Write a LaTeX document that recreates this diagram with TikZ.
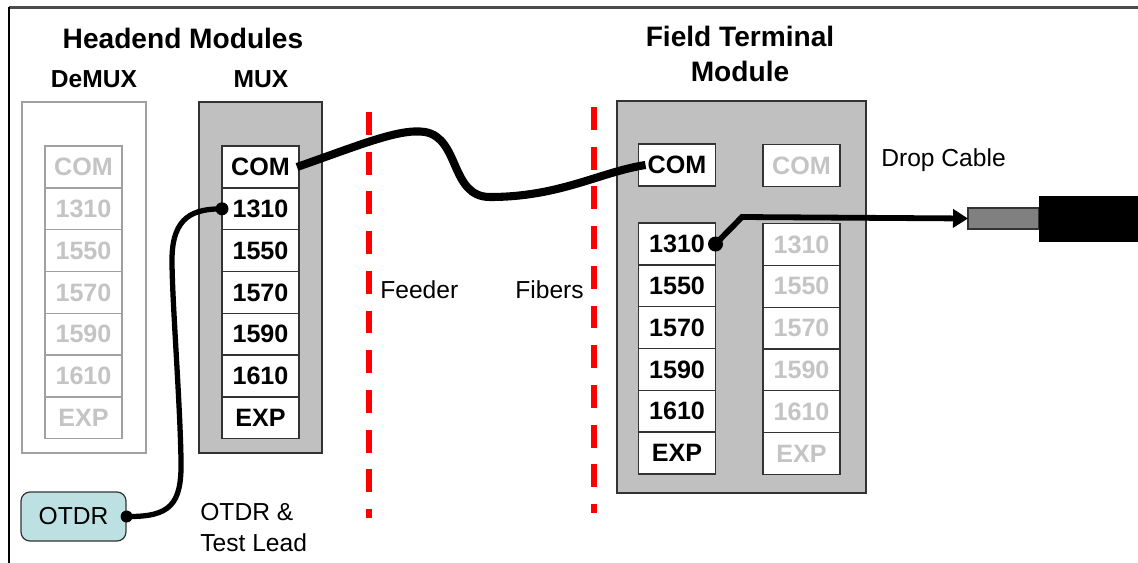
\documentclass[tikz,border=0pt]{standalone}
\usepackage{fontspec}
\setmainfont{Liberation Sans}
\usetikzlibrary{arrows.meta}
\definecolor{boxgray}{HTML}{C0C0C0}
\definecolor{fadetext}{HTML}{C4C4C4}
\definecolor{fadeline}{HTML}{A0A0A0}
\definecolor{edgecol}{HTML}{333333}
\definecolor{otdrfill}{HTML}{BDE0E3}
\definecolor{dropgrayfill}{HTML}{808080}
\begin{document}
\begin{tikzpicture}[x=0.02cm,y=-0.02cm,
  cell/.style={draw=edgecol, line width=0.7pt, fill=white, minimum width=1.54cm, minimum height=0.836cm,
    inner sep=0pt, outer sep=0pt, font=\fontsize{14.3}{16}\selectfont\bfseries},
  fadecell/.style={cell, draw=fadeline, text=fadetext},
  fadecelldark/.style={cell, text=fadetext},
  module/.style={draw=edgecol, line width=0.7pt, fill=boxgray, inner sep=0pt, outer sep=0pt},
  title/.style={font=\fontsize{16}{20.4}\selectfont\bfseries, inner sep=0pt, align=center},
  sublabel/.style={font=\fontsize{14}{16}\selectfont\bfseries, inner sep=0pt, anchor=base},
  plain/.style={font=\fontsize{14}{17.6}\selectfont, inner sep=0pt, align=left},
  reddash/.style={draw=red, line width=3.7pt, dash pattern=on 13pt off 9.6pt},
  feeder/.style={line width=4.6pt, black},
  lead/.style={line width=3pt, black},
  dot/.style={fill=black}
]
\useasboundingbox (0,0) rectangle (1138,562);

% frame
\draw[draw=black!70, line width=1.4pt] (9,7.5) -- (1140,7.5);
\draw[draw=black, line width=0.9pt] (9,7) -- (9,565);

% titles
\node[title, anchor=base] (ttlhead) at (183,48) {Headend Modules};
\node[sublabel] (lbldemux) at (94,87) {DeMUX};
\node[sublabel] (lblmux) at (261,87) {MUX};
\node[title] (ttlfield) at (740,54) {Field Terminal\\Module};
\node[sublabel] (lblfdemux) at (680,135) {DEMUX};
\node[sublabel] (lblfmux) at (803,136) {MUX};

% headend modules
\node[draw=fadeline, line width=0.7pt, fill=white, minimum width=2.48cm, minimum height=7.02cm, inner sep=0pt] (hdbox) at (84,277.5) {};
\node[module, minimum width=2.46cm, minimum height=7.02cm] (hmbox) at (260.5,277.5) {};
\foreach \lab [count=\i from 0] in {COM,1310,1550,1570,1590,1610,EXP} {
  \node[fadecell] (hd-\lab) at (83.5,{167+41.8*\i}) {\lab};
  \node[cell] (hm-\lab) at (260.5,{167+41.8*\i}) {\lab};
}

% field terminal module
\node[module, minimum width=4.98cm, minimum height=7.84cm] (ftbox) at (741.5,297) {};
\node[cell] (fd-COM) at (677,165) {COM};
\node[fadecelldark] (fm-COM) at (801.5,165.5) {COM};
\foreach \lab [count=\i from 0] in {1310,1550,1570,1590,1610,EXP} {
  \node[cell] (fd-\lab) at (677,{244+41.8*\i}) {\lab};
  \node[fadecelldark] (fm-\lab) at (801.5,{244.5+41.8*\i}) {\lab};
}

% red dashed boundaries
\draw[reddash] (369,112) -- (369,518);
\draw[reddash] (594,107) -- (594,513);

% labels
\node[plain, anchor=base west] (lblfeeder) at (380,298) {Feeder};
\node[plain, anchor=base west] (lblfibers) at (515,298) {Fibers};
\node[plain, anchor=base west] (lbldrop) at (881,166) {Drop Cable};
\node[plain, anchor=west] (lbltest) at (200,527.5) {OTDR \&\\Test Lead};

% OTDR
\node[draw=edgecol, line width=0.7pt, fill=otdrfill, rounded corners=0.18cm, minimum width=2.1cm, minimum height=0.98cm,
  inner sep=0pt, font=\fontsize{14}{16}\selectfont] (otdr) at (73.5,516.5) {OTDR};

% drop cable
\node[draw=edgecol, line width=0.7pt, fill=dropgrayfill, minimum width=1.42cm, minimum height=0.42cm, inner sep=0pt, outer sep=0pt] (dropgray) at (1003.5,218.5) {};
\node[fill=black, minimum width=2.3cm, minimum height=0.92cm, inner sep=0pt, outer sep=0pt] (dropblack) at (1096.5,219) {};

% feeder cable
\draw[feeder] ([xshift=-0.04cm]hm-COM.east) .. controls (360,145) and (400,128) .. (425,132)
  .. controls (460,138) and (450,197) .. (490,197)
  .. controls (560,197) and (600,172) .. ([xshift=0.14cm]fd-COM.west);

% drop connection
\draw[lead, line width=3.3pt, -{Triangle[length=0.3cm,width=0.36cm]}] (fd-1310.east) -- (742,217) -- (dropgray.west);
\fill[dot] (fd-1310.east) circle[radius=0.15cm];

% test lead
\draw[lead] (otdr.east) .. controls (170,517) and (182,505) .. (181,460)
  .. controls (180,400) and (172,300) .. (172,260)
  .. controls (172,215) and (195,209) .. (hm-1310.west);
\fill[dot] (otdr.east) circle[radius=0.12cm];
\fill[dot] (hm-1310.west) circle[radius=0.13cm];
\end{tikzpicture}
\end{document}
